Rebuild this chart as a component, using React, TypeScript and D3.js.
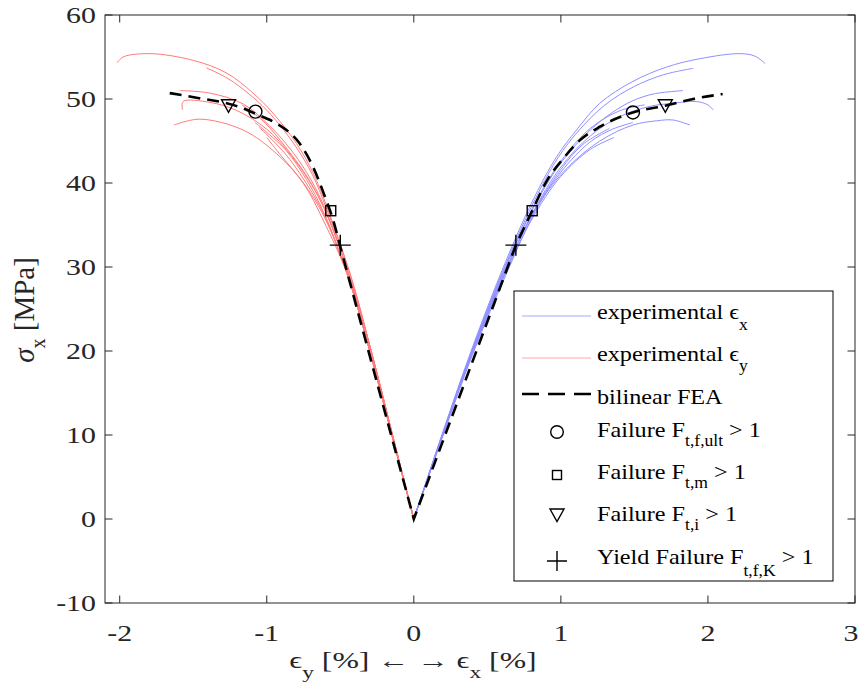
import React from 'react';
import * as d3 from 'd3';

type Pt = [number, number];

// experimental eps_x curves (strain %, stress MPa)
const expX1: Pt[] = [[0, 0], [0.2, 10.5], [0.4, 20.5], [0.6, 29.6], [0.8, 37.6], [0.97, 43.1], [1.106, 46.3], [1.265, 49.5], [1.49, 52.1], [1.718, 53.8], [1.945, 54.8], [2.217, 55.4], [2.32, 55.1], [2.39, 54.2]];
const expX2: Pt[] = [[0, 0], [0.2, 10.4], [0.4, 20.3], [0.6, 29.3], [0.8, 37.2], [0.98, 43.0], [1.12, 46.2], [1.3, 49.3], [1.5, 51.5], [1.7, 52.9], [1.9, 53.65]];
const expX3: Pt[] = [[0, 0], [0.2, 10.3], [0.4, 20.1], [0.6, 28.9], [0.8, 36.6], [1.0, 42.4], [1.2, 46.3], [1.35, 48.4], [1.49, 49.8], [1.63, 50.6], [1.83, 51.0]];
const expX4: Pt[] = [[0, 0], [0.2, 10.2], [0.4, 20.0], [0.6, 28.6], [0.8, 36.2], [1.0, 41.9], [1.2, 45.6], [1.4, 47.9], [1.6, 49.1], [1.763, 49.5], [1.92, 49.7], [2.0, 49.3], [2.035, 48.7]];
const expX5: Pt[] = [[0, 0], [0.2, 10.0], [0.4, 19.6], [0.6, 28.0], [0.857, 37.6], [1.038, 41.7], [1.265, 45.0], [1.49, 46.9], [1.65, 47.4], [1.763, 47.5], [1.877, 46.9]];
const expX6: Pt[] = [[0, 0], [0.2, 10.3], [0.4, 20.2], [0.6, 29.1], [0.8, 36.8], [1.0, 42.6], [1.2, 46.5], [1.4, 48.6], [1.57, 49.3]];
const expX7: Pt[] = [[0, 0], [0.2, 10.2], [0.4, 19.9], [0.6, 28.6], [0.8, 36.1], [1.0, 41.6], [1.15, 44.6], [1.33, 46.5]];
const expX8: Pt[] = [[0, 0], [0.2, 10.1], [0.4, 19.8], [0.6, 28.3], [0.8, 35.6], [1.0, 40.8], [1.2, 44.0], [1.36, 45.4]];
const expX9: Pt[] = [[0, 0], [0.2, 10.2], [0.4, 19.9], [0.6, 28.5], [0.8, 36.0], [1.0, 41.3], [1.2, 44.9], [1.35, 46.4], [1.49, 47.2]];

// experimental eps_y curves (plotted negative)
const expY1: Pt[] = [[0, 0], [-0.145, 10], [-0.29, 20], [-0.43, 29], [-0.594, 37.3], [-0.685, 41.2], [-0.798, 44.7], [-0.957, 48.3], [-1.093, 50.7], [-1.274, 53.1], [-1.5, 54.6], [-1.795, 55.4], [-1.977, 55.0], [-2.018, 54.3]];
const expY2: Pt[] = [[0, 0], [-0.145, 10], [-0.29, 20], [-0.43, 29], [-0.595, 37.0], [-0.69, 41.0], [-0.805, 44.4], [-0.965, 48.0], [-1.1, 50.3], [-1.27, 52.5], [-1.41, 53.7]];
const expY3: Pt[] = [[0, 0], [-0.145, 10], [-0.29, 20], [-0.44, 29], [-0.6, 36.8], [-0.7, 40.4], [-0.82, 43.6], [-0.98, 46.8], [-1.16, 49.4], [-1.387, 50.7], [-1.591, 51.0]];
const expY4: Pt[] = [[0, 0], [-0.145, 10], [-0.29, 20], [-0.44, 29], [-0.6, 36.6], [-0.71, 40.2], [-0.84, 43.4], [-1.0, 46.4], [-1.2, 48.6], [-1.387, 49.6], [-1.569, 49.7], [-1.573, 48.7]];
const expY5: Pt[] = [[0, 0], [-0.15, 10], [-0.3, 20], [-0.45, 29], [-0.617, 35.6], [-0.753, 40.0], [-0.934, 43.5], [-1.16, 46.3], [-1.455, 47.6], [-1.632, 46.9]];
const expY6: Pt[] = [[0, 0], [-0.145, 10], [-0.29, 20], [-0.44, 29], [-0.6, 36.6], [-0.72, 40.6], [-0.86, 44.0], [-1.02, 47.3], [-1.17, 49.3]];
const expY7: Pt[] = [[0, 0], [-0.15, 10], [-0.3, 20], [-0.45, 29], [-0.61, 36.2], [-0.74, 40.2], [-0.88, 43.6], [-1.05, 46.6]];
const expY8: Pt[] = [[0, 0], [-0.15, 10], [-0.3, 20], [-0.45, 29], [-0.61, 36.0], [-0.75, 40.0], [-0.9, 43.2], [-1.0, 45.4]];
const expY9: Pt[] = [[0, 0], [-0.15, 10], [-0.3, 20], [-0.45, 29], [-0.61, 36.4], [-0.73, 40.4], [-0.87, 43.9], [-1.08, 47.2]];

const curvesX = [expX1, expX2, expX3, expX4, expX5, expX6, expX7, expX8, expX9];
const curvesY = [expY1, expY2, expY3, expY4, expY5, expY6, expY7, expY8, expY9];

// bilinear FEA: curved branches and the straight part through the origin
const feaLeft: Pt[] = [[-1.66, 50.7], [-1.46, 50.1], [-1.23, 49.3], [-1.07, 48.2], [-0.934, 47.1], [-0.866, 46.3], [-0.776, 44.7], [-0.685, 41.9], [-0.605, 38.4], [-0.549, 35.6], [-0.503, 32.6]];
const feaRight: Pt[] = [[0.694, 32.6], [0.805, 36.7], [0.902, 40.2], [1.016, 42.9], [1.13, 45.1], [1.265, 46.7], [1.49, 48.4], [1.71, 49.2], [1.9, 50.0], [2.1, 50.6]];
const feaOrigin: Pt = [0, 0];

const failUlt: Pt[] = [[-1.077, 48.5], [1.49, 48.4]];
const failM: Pt[] = [[-0.565, 36.7], [0.805, 36.7]];
const failI: Pt[] = [[-1.26, 49.2], [1.71, 49.2]];
const yieldK: Pt[] = [[-0.5, 32.6], [0.694, 32.6]];

const xTicks = [-2, -1, 0, 1, 2, 3];
const yTicks = [-10, 0, 10, 20, 30, 40, 50, 60];

const BLUE = '#8f8fff';
const RED = '#ff7a7a';
const AX = '#262626';
const FONT = '"Liberation Serif", "Times New Roman", "DejaVu Serif", serif';

export default function App() {
  const W = 860, H = 689;
  const x = d3.scaleLinear().domain([-2.1, 3]).range([105, 855]);
  const y = d3.scaleLinear().domain([-10, 60]).range([603, 15]);
  const [x0, x1] = x.range();
  const [y0, y1] = y.range();

  const expLine = d3.line<Pt>().x(d => x(d[0])).y(d => y(d[1])).curve(d3.curveCatmullRom.alpha(0.5));
  const feaLine = d3.line<Pt>().x(d => x(d[0])).y(d => y(d[1])).curve(d3.curveMonotoneX);
  const feaPath = (feaLine(feaLeft) || '') +
    `L${x(feaOrigin[0])},${y(feaOrigin[1])}` +
    (feaLine(feaRight) || '').replace(/^M/, 'L');

  const tri = (cx: number, cy: number, s: number) =>
    `M${cx - s},${cy - s * 0.85}L${cx + s},${cy - s * 0.85}L${cx},${cy + s * 0.95}Z`;
  const plus = (cx: number, cy: number, s: number) =>
    `M${cx - s},${cy}L${cx + s},${cy}M${cx},${cy - s}L${cx},${cy + s}`;

  const tk = 7.5;
  const lx = 557; // legend marker center
  const tx = 597; // legend text start
  const lsx = 1.1; // legend text stretch

  const legendRows = [
    { y: 319, main: 'experimental ϵ', sub: 'x', dy: 11, tail: '' },
    { y: 361, main: 'experimental ϵ', sub: 'y', dy: 10, tail: '' },
    { y: 404, main: 'bilinear FEA', sub: '', dy: 0, tail: '' },
    { y: 437, main: 'Failure F', sub: 't,f,ult', dy: 9, tail: ' > 1' },
    { y: 479, main: 'Failure F', sub: 't,m', dy: 9, tail: ' > 1' },
    { y: 521, main: 'Failure F', sub: 't,i', dy: 9, tail: ' > 1' },
    { y: 564, main: 'Yield Failure F', sub: 't,f,K', dy: 12, tail: ' > 1' },
  ];

  return (
    <div style={{ position: 'absolute', left: 0, top: 0 }}>
      <svg width={W} height={H} style={{ display: 'block', background: '#fff' }} fontFamily={FONT}>
        <g fill="none" strokeWidth={1}>
          {curvesX.map((c, i) => <path key={'x' + i} d={expLine(c) || ''} stroke={BLUE} />)}
          {curvesY.map((c, i) => <path key={'y' + i} d={expLine(c) || ''} stroke={RED} />)}
        </g>
        <path d={feaPath} fill="none" stroke="#000" strokeWidth={2.6} strokeDasharray="12,7" />
        <g fill="none" stroke="#000" strokeWidth={1.4}>
          {failUlt.map((d, i) => <circle key={'c' + i} cx={x(d[0])} cy={y(d[1])} r={6.5} />)}
          {failM.map((d, i) => <rect key={'s' + i} x={x(d[0]) - 5} y={y(d[1]) - 5} width={10} height={10} />)}
          {failI.map((d, i) => <path key={'t' + i} d={tri(x(d[0]), y(d[1]), 7)} />)}
          {yieldK.map((d, i) => <path key={'p' + i} d={plus(x(d[0]), y(d[1]), 10.5)} />)}
        </g>

        {/* axes box */}
        <rect x={x0} y={y1} width={x1 - x0} height={y0 - y1} fill="none" stroke={AX} strokeWidth={1} />
        <g stroke={AX} strokeWidth={1}>
          {xTicks.map(t => (
            <g key={'xt' + t}>
              <line x1={x(t)} x2={x(t)} y1={y0} y2={y0 - tk} />
              <line x1={x(t)} x2={x(t)} y1={y1} y2={y1 + tk} />
            </g>
          ))}
          {yTicks.map(t => (
            <g key={'yt' + t}>
              <line x1={x0} x2={x0 + tk} y1={y(t)} y2={y(t)} />
              <line x1={x1} x2={x1 - tk} y1={y(t)} y2={y(t)} />
            </g>
          ))}
        </g>
        <g fill={AX} fontSize={23}>
          {xTicks.map(t => (
            <text key={'xl' + t} transform={`translate(${Math.min(x(t), W - 9)},641) scale(1.3,1)`} textAnchor="middle">{t}</text>
          ))}
          {yTicks.map(t => (
            <text key={'yl' + t} transform={`translate(96,${y(t) + 8}) scale(1.3,1)`} textAnchor="end">{t}</text>
          ))}
        </g>

        {/* axis labels */}
        <text transform="translate(413,668) scale(1.38,1)" textAnchor="middle" fontSize={23} fill={AX}>
          ϵ<tspan dy={10} fontSize={17}>y</tspan><tspan dy={-10}> [%] ← → ϵ</tspan><tspan dy={10} fontSize={17}>x</tspan><tspan dy={-10}> [%]</tspan>
        </text>
        <text transform="translate(34,310) rotate(-90)" textAnchor="middle" fontSize={29} fill={AX}>
          <tspan fontStyle="italic">σ</tspan><tspan dy={11} fontSize={20}>x</tspan><tspan dy={-11}> [MPa]</tspan>
        </text>

        {/* legend */}
        <rect x={514} y={291} width={319} height={290} fill="#fff" stroke="#000" strokeWidth={1} />
        <line x1={522} x2={591} y1={316} y2={316} stroke="#a8a8ff" strokeWidth={1} />
        <line x1={522} x2={591} y1={358} y2={358} stroke="#ffa8a8" strokeWidth={1} />
        <line x1={522} x2={591} y1={394} y2={394} stroke="#000" strokeWidth={2.6} strokeDasharray="17,9" />
        <g fill="none" stroke="#000" strokeWidth={1.4}>
          <circle cx={lx} cy={432} r={6.3} />
          <rect x={lx - 4.5} y={470.5} width={9} height={9} />
          <path d={tri(lx, 515, 7)} />
          <path d={plus(lx, 561, 10)} />
        </g>
        <g fontSize={22} fill="#000">
          {legendRows.map((r, i) => (
            <text key={'lg' + i} transform={`translate(${tx},${r.y}) scale(${lsx},1)`}>
              {r.main}
              {r.sub && <tspan dy={r.dy} fontSize={16}>{r.sub}</tspan>}
              {r.tail && <tspan dy={-r.dy}>{r.tail}</tspan>}
            </text>
          ))}
        </g>
      </svg>
    </div>
  );
}
